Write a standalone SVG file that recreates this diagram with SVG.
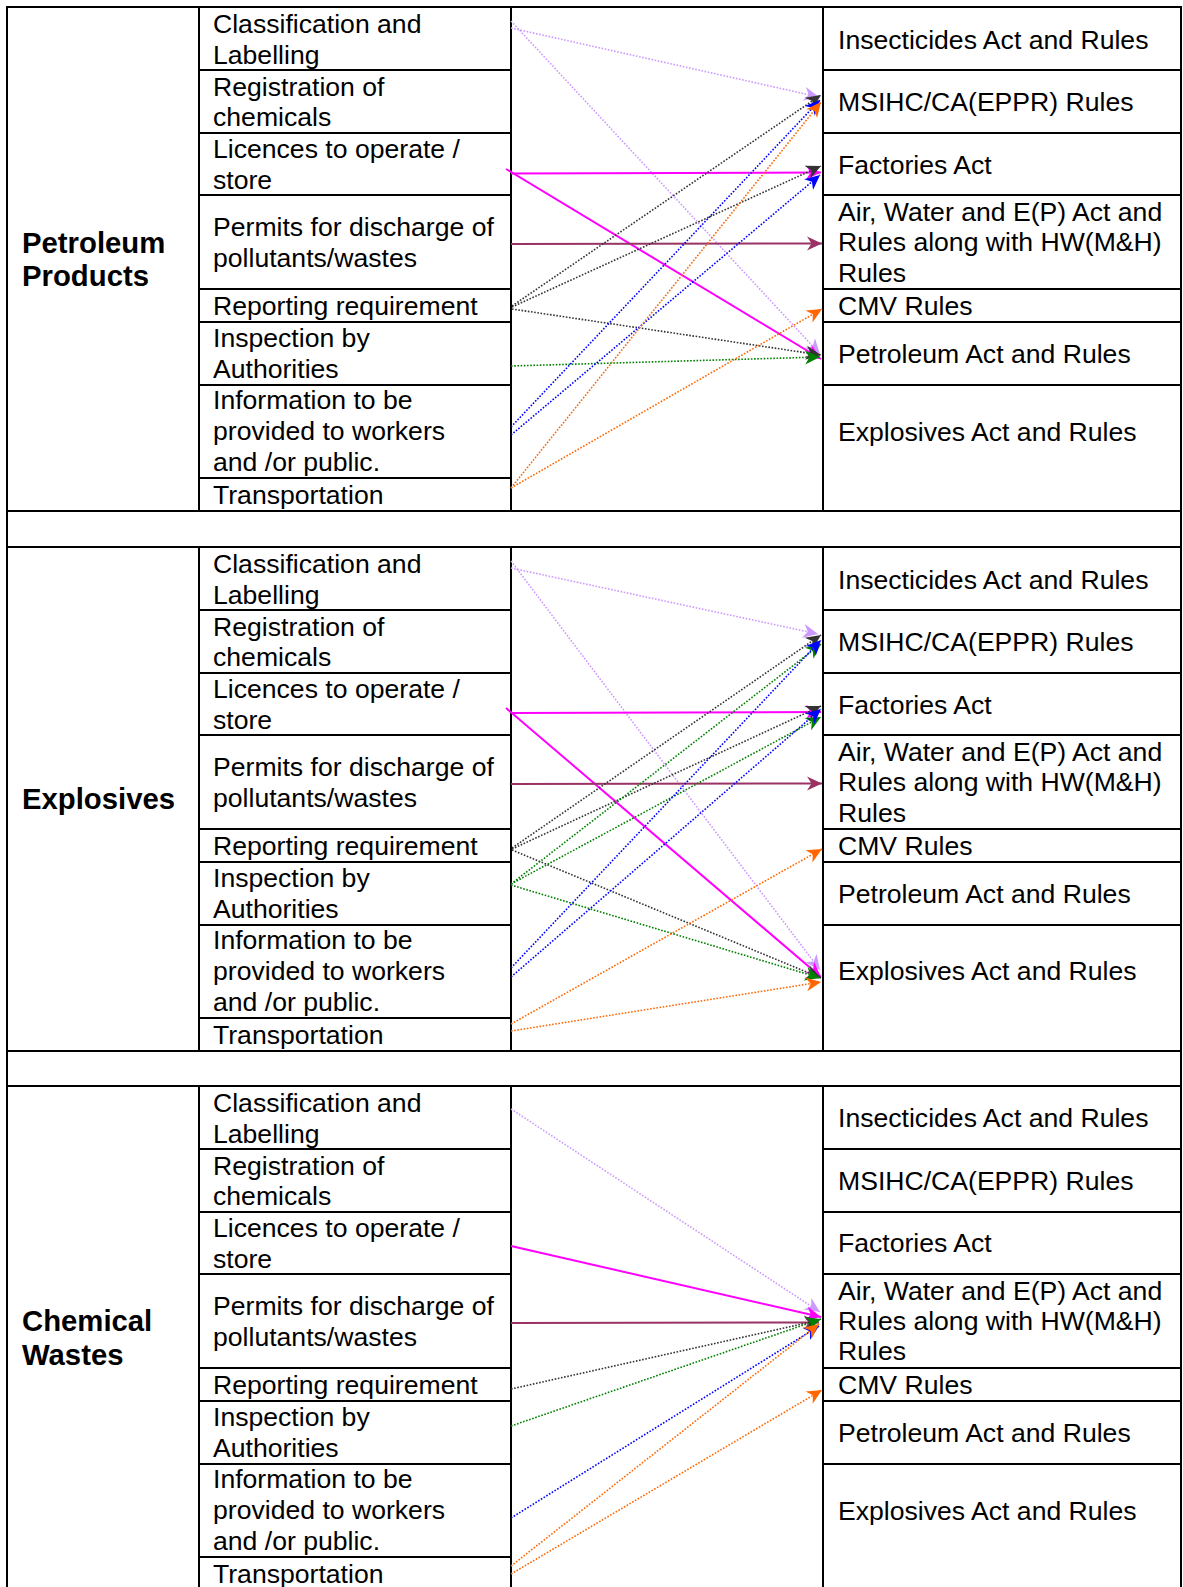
<svg xmlns="http://www.w3.org/2000/svg" width="1183" height="1587" viewBox="0 0 1183 1587">
<style>
text{font-family:"Liberation Sans",Arial,sans-serif;fill:#000}
.t{font-size:26.6px}
.b{font-size:29.3px;font-weight:bold}
.grid{stroke:#000;stroke-width:2;fill:none;stroke-linecap:square}
.c{fill:none}
.dot{stroke-width:1.6;stroke-dasharray:1.6 1.6}
.sol{stroke-width:2}
.lav{stroke:#CC99FF;marker-end:url(#m-lav)}
.mag{stroke:#FF00FF;marker-end:url(#m-mag)}
.plum{stroke:#993366;marker-end:url(#m-plum)}
.blk{stroke:#333333;marker-end:url(#m-blk)}
.grn{stroke:#008000;marker-end:url(#m-grn)}
.blu{stroke:#0000FF;marker-end:url(#m-blu)}
.org{stroke:#FF6600;marker-end:url(#m-org)}
</style>
<defs>
<marker id="m-lav" markerUnits="userSpaceOnUse" markerWidth="16" markerHeight="16" refX="0" refY="0" orient="auto" overflow="visible"><path d="M0,0 L-15,-7 L-10.5,0 L-15,7 Z" fill="#CC99FF"/></marker>
<marker id="m-mag" markerUnits="userSpaceOnUse" markerWidth="16" markerHeight="16" refX="0" refY="0" orient="auto" overflow="visible"><path d="M0,0 L-15,-7 L-10.5,0 L-15,7 Z" fill="#FF00FF"/></marker>
<marker id="m-plum" markerUnits="userSpaceOnUse" markerWidth="16" markerHeight="16" refX="0" refY="0" orient="auto" overflow="visible"><path d="M0,0 L-15,-7 L-10.5,0 L-15,7 Z" fill="#993366"/></marker>
<marker id="m-blk" markerUnits="userSpaceOnUse" markerWidth="16" markerHeight="16" refX="0" refY="0" orient="auto" overflow="visible"><path d="M0,0 L-15,-7 L-10.5,0 L-15,7 Z" fill="#333333"/></marker>
<marker id="m-grn" markerUnits="userSpaceOnUse" markerWidth="16" markerHeight="16" refX="0" refY="0" orient="auto" overflow="visible"><path d="M0,0 L-15,-7 L-10.5,0 L-15,7 Z" fill="#008000"/></marker>
<marker id="m-blu" markerUnits="userSpaceOnUse" markerWidth="16" markerHeight="16" refX="0" refY="0" orient="auto" overflow="visible"><path d="M0,0 L-15,-7 L-10.5,0 L-15,7 Z" fill="#0000FF"/></marker>
<marker id="m-org" markerUnits="userSpaceOnUse" markerWidth="16" markerHeight="16" refX="0" refY="0" orient="auto" overflow="visible"><path d="M0,0 L-15,-7 L-10.5,0 L-15,7 Z" fill="#FF6600"/></marker>
</defs>
<rect width="1183" height="1587" fill="#fff"/>
<g id="grid" class="grid">
<path d="M7,7 H1181 M7,7 V1600 M1181,7 V1600 M7,511 H1181 M7,547 H1181 M7,1051 H1181 M7,1086 H1181"/>
<path d="M199,7 V511 M511,7 V511 M823,7 V511 M199,547 V1051 M511,547 V1051 M823,547 V1051 M199,1086 V1600 M511,1086 V1600 M823,1086 V1600"/>
<path d="M199,70 H511 M199,133 H511 M199,195 H511 M199,289 H511 M199,322 H511 M199,385 H511 M199,478 H511"/>
<path d="M823,70 H1181 M823,133 H1181 M823,195 H1181 M823,289 H1181 M823,322 H1181 M823,385 H1181"/>
<path d="M199,610 H511 M199,673 H511 M199,735 H511 M199,829 H511 M199,862 H511 M199,925 H511 M199,1018 H511"/>
<path d="M823,610 H1181 M823,673 H1181 M823,735 H1181 M823,829 H1181 M823,862 H1181 M823,925 H1181"/>
<path d="M199,1149 H511 M199,1212 H511 M199,1274 H511 M199,1368 H511 M199,1401 H511 M199,1464 H511 M199,1557 H511"/>
<path d="M823,1149 H1181 M823,1212 H1181 M823,1274 H1181 M823,1368 H1181 M823,1401 H1181 M823,1464 H1181"/>
</g>
<g id="section1">
<g id="s1-label"><text class="b" x="22" y="253">Petroleum</text><text class="b" x="22" y="286">Products</text></g>
<g id="s1-classification"><text class="t" x="213" y="33">Classification and</text><text class="t" x="213" y="63.5">Labelling</text></g>
<g id="s1-registration"><text class="t" x="213" y="95.5">Registration of</text><text class="t" x="213" y="126">chemicals</text></g>
<g id="s1-licences"><text class="t" x="213" y="158">Licences to operate /</text><text class="t" x="213" y="188.5">store</text></g>
<g id="s1-permits"><text class="t" x="213" y="236">Permits for discharge of</text><text class="t" x="213" y="266.5">pollutants/wastes</text></g>
<g id="s1-reporting"><text class="t" x="213" y="315">Reporting requirement</text></g>
<g id="s1-inspection"><text class="t" x="213" y="346.5">Inspection by</text><text class="t" x="213" y="377.5">Authorities</text></g>
<g id="s1-information"><text class="t" x="213" y="409">Information to be</text><text class="t" x="213" y="440">provided to workers</text><text class="t" x="213" y="471">and /or public.</text></g>
<g id="s1-transportation"><text class="t" x="213" y="503.5">Transportation</text></g>
<g id="s1-insecticides"><text class="t" x="838" y="48.5">Insecticides Act and Rules</text></g>
<g id="s1-msihc"><text class="t" x="838" y="111">MSIHC/CA(EPPR) Rules</text></g>
<g id="s1-factories"><text class="t" x="838" y="173.5">Factories Act</text></g>
<g id="s1-airwater"><text class="t" x="838" y="221">Air, Water and E(P) Act and</text><text class="t" x="838" y="251">Rules along with HW(M&amp;H)</text><text class="t" x="838" y="282">Rules</text></g>
<g id="s1-cmv"><text class="t" x="838" y="315">CMV Rules</text></g>
<g id="s1-petroleumact"><text class="t" x="838" y="363">Petroleum Act and Rules</text></g>
<g id="s1-explosivesact"><text class="t" x="838" y="441">Explosives Act and Rules</text></g>
</g>
<g id="section2">
<g id="s2-label"><text class="b" x="22" y="809">Explosives</text></g>
<g id="s2-classification"><text class="t" x="213" y="573">Classification and</text><text class="t" x="213" y="603.5">Labelling</text></g>
<g id="s2-registration"><text class="t" x="213" y="635.5">Registration of</text><text class="t" x="213" y="666">chemicals</text></g>
<g id="s2-licences"><text class="t" x="213" y="698">Licences to operate /</text><text class="t" x="213" y="728.5">store</text></g>
<g id="s2-permits"><text class="t" x="213" y="776">Permits for discharge of</text><text class="t" x="213" y="806.5">pollutants/wastes</text></g>
<g id="s2-reporting"><text class="t" x="213" y="855">Reporting requirement</text></g>
<g id="s2-inspection"><text class="t" x="213" y="886.5">Inspection by</text><text class="t" x="213" y="917.5">Authorities</text></g>
<g id="s2-information"><text class="t" x="213" y="949">Information to be</text><text class="t" x="213" y="980">provided to workers</text><text class="t" x="213" y="1011">and /or public.</text></g>
<g id="s2-transportation"><text class="t" x="213" y="1043.5">Transportation</text></g>
<g id="s2-insecticides"><text class="t" x="838" y="588.5">Insecticides Act and Rules</text></g>
<g id="s2-msihc"><text class="t" x="838" y="651">MSIHC/CA(EPPR) Rules</text></g>
<g id="s2-factories"><text class="t" x="838" y="713.5">Factories Act</text></g>
<g id="s2-airwater"><text class="t" x="838" y="761">Air, Water and E(P) Act and</text><text class="t" x="838" y="791">Rules along with HW(M&amp;H)</text><text class="t" x="838" y="822">Rules</text></g>
<g id="s2-cmv"><text class="t" x="838" y="855">CMV Rules</text></g>
<g id="s2-petroleumact"><text class="t" x="838" y="903">Petroleum Act and Rules</text></g>
<g id="s2-explosivesact"><text class="t" x="838" y="980">Explosives Act and Rules</text></g>
</g>
<g id="section3">
<g id="s3-label"><text class="b" x="22" y="1331">Chemical</text><text class="b" x="22" y="1364.5">Wastes</text></g>
<g id="s3-classification"><text class="t" x="213" y="1112">Classification and</text><text class="t" x="213" y="1142.5">Labelling</text></g>
<g id="s3-registration"><text class="t" x="213" y="1174.5">Registration of</text><text class="t" x="213" y="1205">chemicals</text></g>
<g id="s3-licences"><text class="t" x="213" y="1237">Licences to operate /</text><text class="t" x="213" y="1267.5">store</text></g>
<g id="s3-permits"><text class="t" x="213" y="1315">Permits for discharge of</text><text class="t" x="213" y="1345.5">pollutants/wastes</text></g>
<g id="s3-reporting"><text class="t" x="213" y="1394">Reporting requirement</text></g>
<g id="s3-inspection"><text class="t" x="213" y="1425.5">Inspection by</text><text class="t" x="213" y="1456.5">Authorities</text></g>
<g id="s3-information"><text class="t" x="213" y="1488">Information to be</text><text class="t" x="213" y="1519">provided to workers</text><text class="t" x="213" y="1550">and /or public.</text></g>
<g id="s3-transportation"><text class="t" x="213" y="1582.5">Transportation</text></g>
<g id="s3-insecticides"><text class="t" x="838" y="1126.5">Insecticides Act and Rules</text></g>
<g id="s3-msihc"><text class="t" x="838" y="1189.5">MSIHC/CA(EPPR) Rules</text></g>
<g id="s3-factories"><text class="t" x="838" y="1252">Factories Act</text></g>
<g id="s3-airwater"><text class="t" x="838" y="1299.5">Air, Water and E(P) Act and</text><text class="t" x="838" y="1329.5">Rules along with HW(M&amp;H)</text><text class="t" x="838" y="1360">Rules</text></g>
<g id="s3-cmv"><text class="t" x="838" y="1393.5">CMV Rules</text></g>
<g id="s3-petroleumact"><text class="t" x="838" y="1441.5">Petroleum Act and Rules</text></g>
<g id="s3-explosivesact"><text class="t" x="838" y="1520">Explosives Act and Rules</text></g>
</g>
<g id="connectors" class="c">
<line class="dot lav" x1="511" y1="28" x2="819" y2="97"/>
<line class="dot lav" x1="511" y1="21" x2="820" y2="354"/>
<line class="sol mag" x1="511" y1="173.5" x2="821" y2="172.5"/>
<line class="sol mag" x1="506" y1="169" x2="821" y2="359"/>
<line class="sol plum" x1="511" y1="244" x2="822" y2="243.5"/>
<line class="dot blk" x1="512" y1="306" x2="821" y2="95"/>
<line class="dot blk" x1="512" y1="307" x2="821" y2="166"/>
<line class="dot blk" x1="512" y1="309" x2="821" y2="355"/>
<line class="dot grn" x1="511" y1="366" x2="820" y2="357"/>
<line class="dot blu" x1="511" y1="427" x2="820" y2="100"/>
<line class="dot blu" x1="511" y1="435" x2="820" y2="175"/>
<line class="dot org" x1="511" y1="488" x2="821" y2="102"/>
<line class="dot org" x1="511" y1="488" x2="822" y2="309"/>

<line class="dot lav" x1="511" y1="568" x2="818" y2="634"/>
<line class="dot lav" x1="511" y1="561" x2="820" y2="970"/>
<line class="sol mag" x1="511" y1="713" x2="821" y2="712"/>
<line class="sol mag" x1="506" y1="708" x2="821" y2="977"/>
<line class="sol plum" x1="511" y1="784" x2="822" y2="783.5"/>
<line class="dot blk" x1="512" y1="848" x2="821" y2="635"/>
<line class="dot blk" x1="512" y1="849" x2="821" y2="706"/>
<line class="dot blk" x1="512" y1="850" x2="821" y2="978"/>
<line class="dot grn" x1="511" y1="884" x2="821" y2="644"/>
<line class="dot grn" x1="511" y1="884" x2="821" y2="717"/>
<line class="dot grn" x1="511" y1="885" x2="820" y2="978"/>
<line class="dot blu" x1="511" y1="968" x2="821" y2="640"/>
<line class="dot blu" x1="511" y1="977" x2="821" y2="709"/>
<line class="dot org" x1="511" y1="1024" x2="822" y2="849"/>
<line class="dot org" x1="511" y1="1031" x2="821" y2="982"/>

<line class="dot lav" x1="511" y1="1109" x2="820" y2="1312"/>
<line class="sol mag" x1="511" y1="1246" x2="821" y2="1317"/>
<line class="sol plum" x1="511" y1="1323" x2="819" y2="1322.5"/>
<line class="dot blk" x1="511" y1="1389" x2="820" y2="1320"/>
<line class="dot grn" x1="511" y1="1426" x2="821" y2="1319"/>
<line class="dot blu" x1="511" y1="1518" x2="819" y2="1326"/>
<line class="dot org" x1="511" y1="1566" x2="819" y2="1324"/>
<line class="dot org" x1="511" y1="1574" x2="822" y2="1390"/>
</g>
</svg>
